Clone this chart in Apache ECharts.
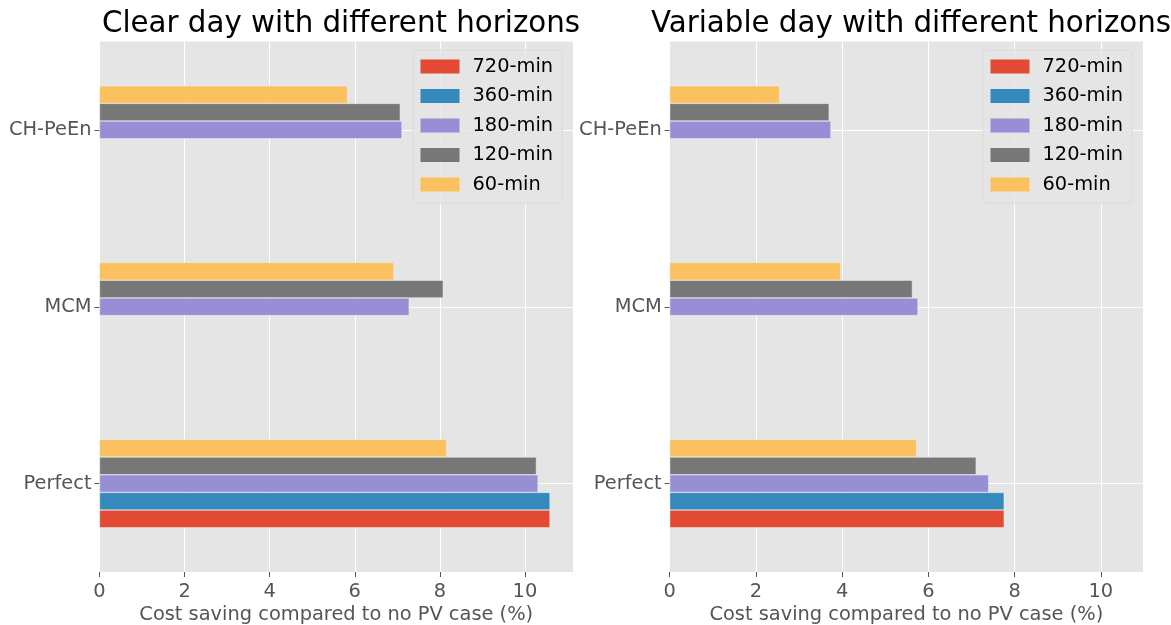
<!DOCTYPE html>
<html>
<head>
<meta charset="utf-8">
<script src="https://cdn.jsdelivr.net/npm/echarts@6/dist/echarts.min.js"></script>
<style>
html,body{margin:0;padding:0;background:#fff;}
#chart{width:1171px;height:625px;}
</style>
</head>
<body>
<div id="chart"></div>
<script>
const categories = ['Perfect', 'MCM', 'CH-PeEn'];
const horizons = ['720-min', '360-min', '180-min', '120-min', '60-min'];
const xTicks = [0, 2, 4, 6, 8, 10];

const clear720 = [10.59, null, null];
const clear360 = [10.59, null, null];
const clear180 = [10.31, 7.28, 7.11];
const clear120 = [10.27, 8.08, 7.07];
const clear60  = [8.16, 6.92, 5.83];

const var720 = [7.76, null, null];
const var360 = [7.76, null, null];
const var180 = [7.40, 5.76, 3.74];
const var120 = [7.11, 5.63, 3.70];
const var60  = [5.73, 3.97, 2.55];

const titles = ['Clear day with different horizons', 'Variable day with different horizons'];
const xName = 'Cost saving compared to no PV case (%)';
const colors = ['#E24A33', '#348ABD', '#988ED5', '#777777', '#FBC15E'];

const FONT = 'DejaVu Sans';
const clearData = [clear720, clear360, clear180, clear120, clear60];
const varData = [var720, var360, var180, var120, var60];

const grids = [
  {left: 99.5, top: 41.5, width: 473.5, height: 530.5},
  {left: 669.7, top: 41.5, width: 473.3, height: 530.5}
];
const xMax = [11.13, 10.98];

function xAxis(i) {
  return {
    type: 'value', gridIndex: i, min: 0, max: xMax[i], interval: 2,
    name: xName, nameLocation: 'middle', nameGap: 30,
    nameTextStyle: {color: '#555555', fontSize: 19.4, fontFamily: FONT},
    axisLine: {show: false},
    axisTick: {show: true, length: 5, lineStyle: {color: '#555555', width: 1}, customValues: xTicks},
    axisLabel: {color: '#555555', fontSize: 19.4, fontFamily: FONT, margin: 10, customValues: xTicks},
    splitLine: {show: true, lineStyle: {color: '#ffffff', width: 1}}
  };
}
function yAxis(i) {
  return {
    type: 'category', gridIndex: i, data: categories,
    axisLine: {show: false},
    axisTick: {show: true, length: 5, alignWithLabel: true, lineStyle: {color: '#555555', width: 1}},
    axisLabel: {color: '#555555', fontSize: 19.4, fontFamily: FONT, margin: 8},
    splitLine: {show: true, alignWithLabel: true, lineStyle: {color: '#ffffff', width: 1}}
  };
}
function legend(i, left) {
  return {
    orient: 'vertical', left: left, top: 50,
    data: horizons,
    itemWidth: 39, itemHeight: 14, itemGap: 9.5,
    padding: [6.5, 9, 8.5, 7.5],
    backgroundColor: 'rgba(229,229,229,0.8)',
    borderColor: '#DCDCDC', borderWidth: 1, borderRadius: 4,
    textStyle: {color: '#000000', fontSize: 19.4, fontFamily: FONT, lineHeight: 20, padding: [0, 0, 0, 8]},
    icon: 'rect',
    itemStyle: {borderWidth: 0}
  };
}

// ECharts stacks horizontal bar slots top-first, so add series from 60-min down to 720-min
const series = [];
[clearData, varData].forEach((set, gi) => {
  for (let k = set.length - 1; k >= 0; k--) {
    series.push({
      type: 'bar', name: horizons[k], xAxisIndex: gi, yAxisIndex: gi,
      data: set[k], barWidth: '10%', barGap: '0%',
      itemStyle: {color: colors[k], borderColor: '#EEEEEE', borderWidth: 0.5},
      emphasis: {disabled: true},
      animation: false
    });
  }
});

const chart = echarts.init(document.getElementById('chart'), null, {renderer: 'canvas'});
chart.setOption({
  animation: false,
  title: [
    {text: titles[0], left: 336, top: 5, textAlign: 'center',
     textStyle: {color: '#000', fontSize: 29.3, fontWeight: 'normal', fontFamily: FONT}},
    {text: titles[1], left: 906, top: 5, textAlign: 'center',
     textStyle: {color: '#000', fontSize: 29.3, fontWeight: 'normal', fontFamily: FONT}}
  ],
  legend: [legend(0, 413), legend(1, 983)],
  grid: grids.map(g => Object.assign({show: true, backgroundColor: '#E5E5E5', borderWidth: 0,
    containLabel: false, outerBoundsMode: 'none'}, g)),
  xAxis: [xAxis(0), xAxis(1)],
  yAxis: [yAxis(0), yAxis(1)],
  series: series
});
</script>
</body>
</html>
